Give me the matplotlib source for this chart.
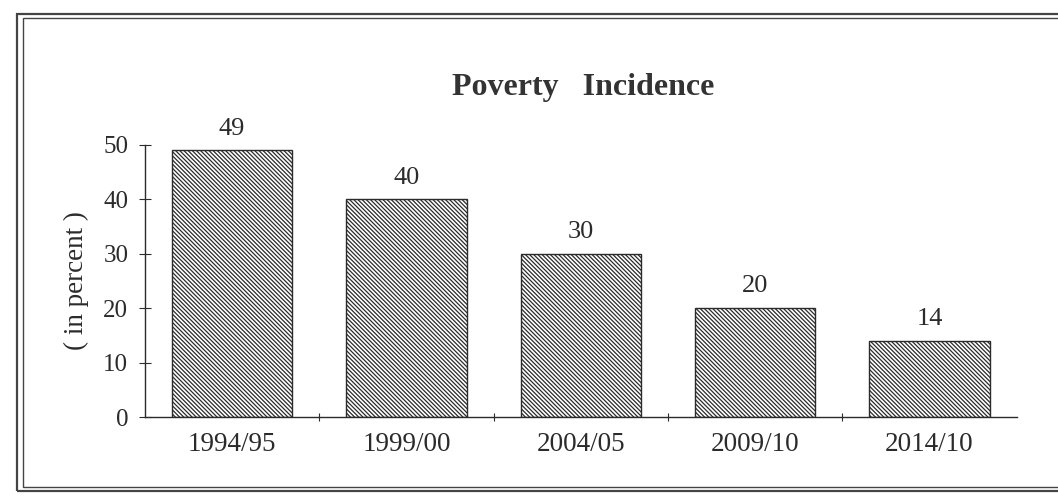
import matplotlib
matplotlib.use("Agg")
import matplotlib.pyplot as plt
from matplotlib.patches import Rectangle

years = ["1994/95", "1999/00", "2004/05", "2009/10", "2014/10"]
poverty = [49, 40, 30, 20, 14]
yticks = [0, 10, 20, 30, 40, 50]

plt.rcParams["font.family"] = ["Liberation Serif", "DejaVu Serif"]
plt.rcParams["hatch.linewidth"] = 0.9

ink = "#2b2b2b"

fig = plt.figure(figsize=(10.58, 5.0), dpi=100)
ax = fig.add_axes([0.137, 0.166, 0.824, 0.544])

x = list(range(len(years)))
bars = ax.bar(x, poverty, width=0.69, color="white", edgecolor=ink,
              hatch="\\" * 8, linewidth=1.0)

for xi, v in zip(x, poverty):
    ax.text(xi, v + 2.0, str(v), ha="center", va="bottom",
            fontsize=19, color=ink, clip_on=False)

ax.set_xlim(-0.5, len(years) - 0.5)
ax.set_ylim(0, 50)
ax.set_yticks(yticks)
ax.set_yticklabels([str(t) for t in yticks], fontsize=18, color=ink)

# category labels centred under bars, ticks between categories
ax.set_xticks(x)
ax.set_xticklabels(years, fontsize=19.5, color=ink)
ax.tick_params(axis="x", length=0, pad=11)
ax.set_xticks([i + 0.5 for i in x[:-1]], minor=True)
ax.tick_params(axis="x", which="minor", direction="inout", length=6,
               width=0.8, color=ink)
ax.tick_params(axis="y", direction="inout", length=8, width=0.8,
               color=ink, pad=8)

for side in ["top", "right"]:
    ax.spines[side].set_visible(False)
for side in ["left", "bottom"]:
    ax.spines[side].set_color(ink)
    ax.spines[side].set_linewidth(1.0)

ax.set_ylabel("( in percent )", fontsize=19.5, color=ink, labelpad=10)

fig.text(0.551, 0.824, "Poverty   Incidence", ha="center", va="center",
         fontsize=23, fontweight="bold", color="#333333")

# double frame around the whole chart
fig.add_artist(Rectangle((0.016, 0.018), 1.2, 0.954, transform=fig.transFigure,
                         fill=False, edgecolor="#444444", linewidth=1.6))
fig.add_artist(Rectangle((0.022, 0.026), 1.2, 0.938, transform=fig.transFigure,
                         fill=False, edgecolor="#444444", linewidth=1.0))

fig.savefig("out.png", dpi=100)
